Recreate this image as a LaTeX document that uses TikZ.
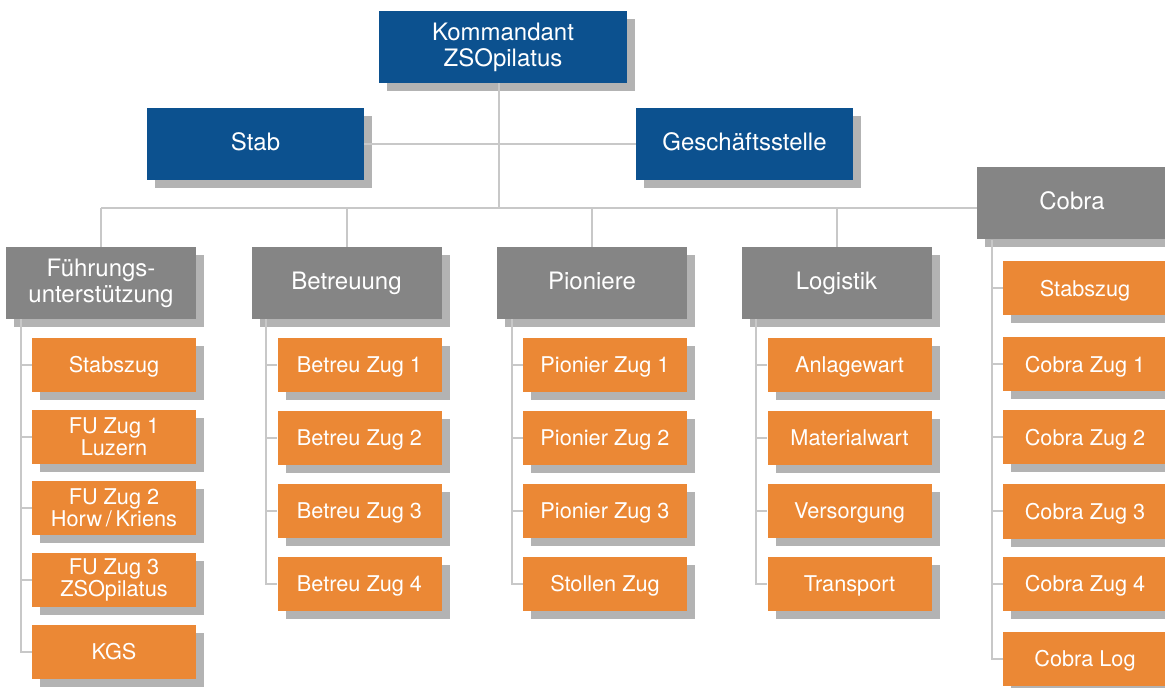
\documentclass[tikz,border=0pt]{standalone}
\usepackage{fontspec}
\setmainfont{TeX Gyre Heros}
\usetikzlibrary{shadows}

\definecolor{kblue}{RGB}{12,81,143}
\definecolor{kgray}{RGB}{133,133,133}
\definecolor{korange}{RGB}{235,136,53}
\definecolor{kshadow}{RGB}{179,179,179}
\definecolor{kline}{RGB}{200,200,200}

\tikzset{
	box/.style={text=white, inner sep=0pt, align=center,
		general shadow={fill=kshadow, shadow xshift=4pt, shadow yshift=-4pt}},
	chef/.style={box, fill=kblue, minimum height=36pt, font=\fontsize{12}{13}\selectfont,
		text height=8.6pt, text depth=2.5pt},
	ressort/.style={box, fill=kgray, minimum width=95pt, minimum height=36pt, font=\fontsize{12}{13}\selectfont,
		text height=8.6pt, text depth=2.5pt},
	zug/.style={box, fill=korange, minimum width=82pt, minimum height=27pt, font=\fontsize{10.85}{11}\selectfont,
		text height=7.8pt, text depth=0pt},
	zweizeilig/.style={text height={}, text depth={}},
	conn/.style={draw=kline, line width=1pt}
}

\begin{document}
\begin{tikzpicture}[x=0.5pt,y=-0.5pt]

	\useasboundingbox (0,0) rectangle (1165,688);
	\clip (0,0) rectangle (1165,688);

	% Leitung
	\node[chef, zweizeilig, minimum width=124pt] (kdt) at (503,47) {Kommandant\\ZSOpilatus};
	\node[chef, minimum width=108.5pt] (stab) at (255.5,144) {Stab};
	\node[chef, minimum width=108.5pt] (gs) at (744.5,144) {Geschäftsstelle};

	% Ressorts
	\node[ressort, zweizeilig] (fu) at (101,283) {Führungs-\\unterstützung};
	\node[ressort] (betr) at (346.5,283) {Betreuung};
	\node[ressort] (pio) at (592,283) {Pioniere};
	\node[ressort] (log) at (836.5,283) {Logistik};
	\node[ressort] (cob) at (1072,203.5) {Cobra};

	% Zuege
	\foreach \t/\y [count=\i] in {Stabszug/365, {FU Zug 1\\Luzern}/437, {FU Zug 2\\Horw\,/\,Kriens}/508, {FU Zug 3\\ZSOpilatus}/580, KGS/652}
		\node[zug, \ifnum\i>1 \ifnum\i<5 zweizeilig\fi\fi] (fu\i) at (114,\y) {\t};
	\foreach \t/\y [count=\i] in {Betreu Zug 1/365, Betreu Zug 2/438, Betreu Zug 3/511, Betreu Zug 4/584}
		\node[zug] (betr\i) at (359.5,\y) {\t};
	\foreach \t/\y [count=\i] in {Pionier Zug 1/365, Pionier Zug 2/438, Pionier Zug 3/511, Stollen Zug/584}
		\node[zug] (pio\i) at (605,\y) {\t};
	\foreach \t/\y [count=\i] in {Anlagewart/365, Materialwart/438, Versorgung/511, Transport/584}
		\node[zug] (log\i) at (849.5,\y) {\t};
	\foreach \t/\y [count=\i] in {Stabszug/288.5, Cobra Zug 1/364.5, Cobra Zug 2/437.5, Cobra Zug 3/511.5, Cobra Zug 4/584, Cobra Log/659}
		\node[zug] (cob\i) at (1085,\y) {\t};

	% Linien
	\coordinate (trunk) at (499,208);
	\draw[conn] (kdt.south -| trunk) -- (trunk);
	\draw[conn] (stab.east) -- (gs.west);
	\draw[conn] (fu.north |- trunk) -- (cob.west |- trunk);
	\foreach \g in {fu,betr,pio,log}
		\draw[conn] (\g.north) -- (\g.north |- trunk);

	\foreach \g/\n in {fu/5,betr/4,pio/4,log/4,cob/6} {
		\draw[conn] ([xshift=7.5pt]\g.south west) -- ([xshift=7.5pt]\g.south west |- \g\n.west) -- (\g\n.west);
		\foreach \i in {1,...,\n}
			\draw[conn] (\g\i.west) -- ++(-5.5pt,0);
	}

\end{tikzpicture}
\end{document}
